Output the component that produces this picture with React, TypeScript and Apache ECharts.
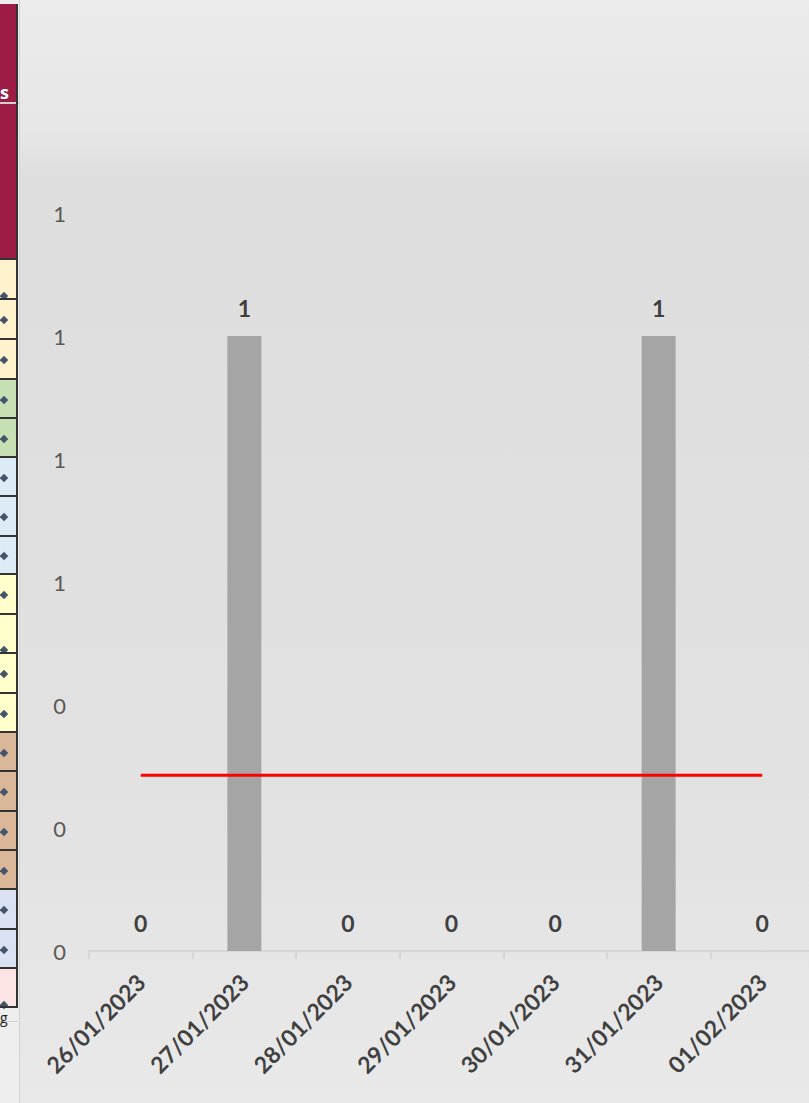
import React, { useEffect, useRef } from "react";
import * as echarts from "echarts";

const categories = ["26/01/2023", "27/01/2023", "28/01/2023", "29/01/2023", "30/01/2023", "31/01/2023", "01/02/2023"];
const counts = [0, 1, 0, 0, 0, 1, 0];
const averageValue = 0.2857;
const averageLine = categories.map(() => averageValue);

const stripCells: [number, number, string, string][] = [
  [258, 298, "#FFF2CC", "bottom"],
  [298, 338, "#FFF2CC", "mid"],
  [338, 378, "#FFF2CC", "mid"],
  [378, 417, "#C6E0B4", "mid"],
  [417, 456, "#C6E0B4", "mid"],
  [456, 495, "#DDEBF7", "mid"],
  [495, 535, "#DDEBF7", "mid"],
  [535, 573, "#DDEBF7", "mid"],
  [573, 613, "#FFFFCC", "mid"],
  [613, 652, "#FFFFCC", "bottom"],
  [652, 692, "#FFFFCC", "mid"],
  [692, 731, "#FFFFCC", "mid"],
  [731, 770, "#D9B798", "mid"],
  [770, 810, "#D9B798", "mid"],
  [810, 849, "#D9B798", "mid"],
  [849, 888, "#D9B798", "mid"],
  [888, 928, "#DAE1F2", "mid"],
  [928, 967, "#DAE1F2", "mid"],
  [967, 1007, "#FDE4E4", "bottom"],
];

const FONT = "Lato, 'Open Sans', sans-serif";

export default function App() {
  const ref = useRef<HTMLDivElement>(null);
  useEffect(() => {
    if (!ref.current) return;
    const chart = echarts.init(ref.current, undefined, { renderer: "svg" });
    chart.setOption({
      animation: false,
      backgroundColor: "transparent",
      grid: { left: 89, right: 1, top: 213, bottom: 152, containLabel: false },
      xAxis: {
        type: "category",
        data: categories,
        axisLine: { show: true, lineStyle: { color: "#d6d6d6", width: 2 } },
        axisTick: { show: true, length: 8, lineStyle: { color: "#d6d6d6", width: 2 } },
        axisLabel: {
          rotate: 45,
          interval: 0,
          margin: 27,
          fontFamily: FONT,
          fontSize: 23,
          fontWeight: "bold",
          color: "#404040",
        },
      },
      yAxis: {
        type: "value",
        min: 0,
        max: 1.2,
        interval: 0.2,
        axisLine: { show: false },
        axisTick: { show: false },
        splitLine: { show: false },
        axisLabel: {
          margin: 23,
          fontFamily: FONT,
          fontSize: 22,
          color: "#595959",
          formatter: (v: number) => Math.round(v).toFixed(0),
        },
      },
      series: [
        {
          type: "bar",
          data: counts,
          barWidth: 34,
          itemStyle: { color: "#a5a5a5" },
          label: {
            show: true,
            position: "top",
            distance: 17,
            fontFamily: FONT,
            fontSize: 23,
            fontWeight: "bold",
            color: "#404040",
          },
          z: 2,
        },
        {
          type: "line",
          data: averageLine,
          showSymbol: false,
          symbol: "none",
          lineStyle: { color: "#ff0000", width: 3 },
          z: 3,
        },
      ],
    });
    return () => chart.dispose();
  }, []);

  return (
    <div
      style={{
        position: "fixed",
        left: 0,
        top: 0,
        width: 809,
        height: 1103,
        overflow: "hidden",
        background:
          "linear-gradient(180deg, #ebebeb 0px, #e7e7e7 130px, #dedede 180px, #e0e0e0 600px, #e3e3e3 850px, #e9e9e9 1103px)",
      }}
    >
      <div style={{ position: "absolute", left: 0, top: 0, width: 20, height: 1103, background: "#eeeeee" }} />
      <div style={{ position: "absolute", left: 19, top: 0, width: 1, height: 1103, background: "#d2d2d2" }} />
      <div style={{ position: "absolute", left: 0, top: 4, width: 17, height: 254, background: "#9C1C45" }} />
      <div
        style={{
          position: "absolute",
          left: 0,
          top: 80,
          fontFamily: "'Open Sans', sans-serif",
          fontWeight: "bold",
          fontSize: 18,
          color: "#ffffff",
          lineHeight: "24px",
        }}
      >
        s
      </div>
      <div style={{ position: "absolute", left: 0, top: 102, width: 19, height: 2, background: "#cfcfcf" }} />
      {stripCells.map(([t, b, c, d], i) => (
        <div
          key={i}
          style={{ position: "absolute", left: 0, top: t, width: 17, height: b - t, background: c, boxSizing: "border-box", borderTop: "2px solid #333333" }}
        >
          <div
            style={{
              position: "absolute",
              left: 1,
              top: d === "mid" ? (b - t) / 2 - 3 : b - t - 7,
              width: 6,
              height: 6,
              background: "#44546A",
              transform: "rotate(45deg)",
            }}
          />
        </div>
      ))}
      <div style={{ position: "absolute", left: 0, top: 1006, width: 17, height: 2, background: "#333333" }} />
      <div style={{ position: "absolute", left: 16, top: 4, width: 2, height: 1004, background: "#333333" }} />
      <div style={{ position: "absolute", left: 0, top: 1021, width: 18, height: 1, background: "#d0d0d0" }} />
      <div
        style={{ position: "absolute", left: 0, top: 1008, fontFamily: "'Open Sans', sans-serif", fontSize: 14, color: "#222", lineHeight: "20px" }}
      >
        g
      </div>
      <div ref={ref} style={{ position: "absolute", left: 0, top: 0, width: 815, height: 1103 }} />
    </div>
  );
}
